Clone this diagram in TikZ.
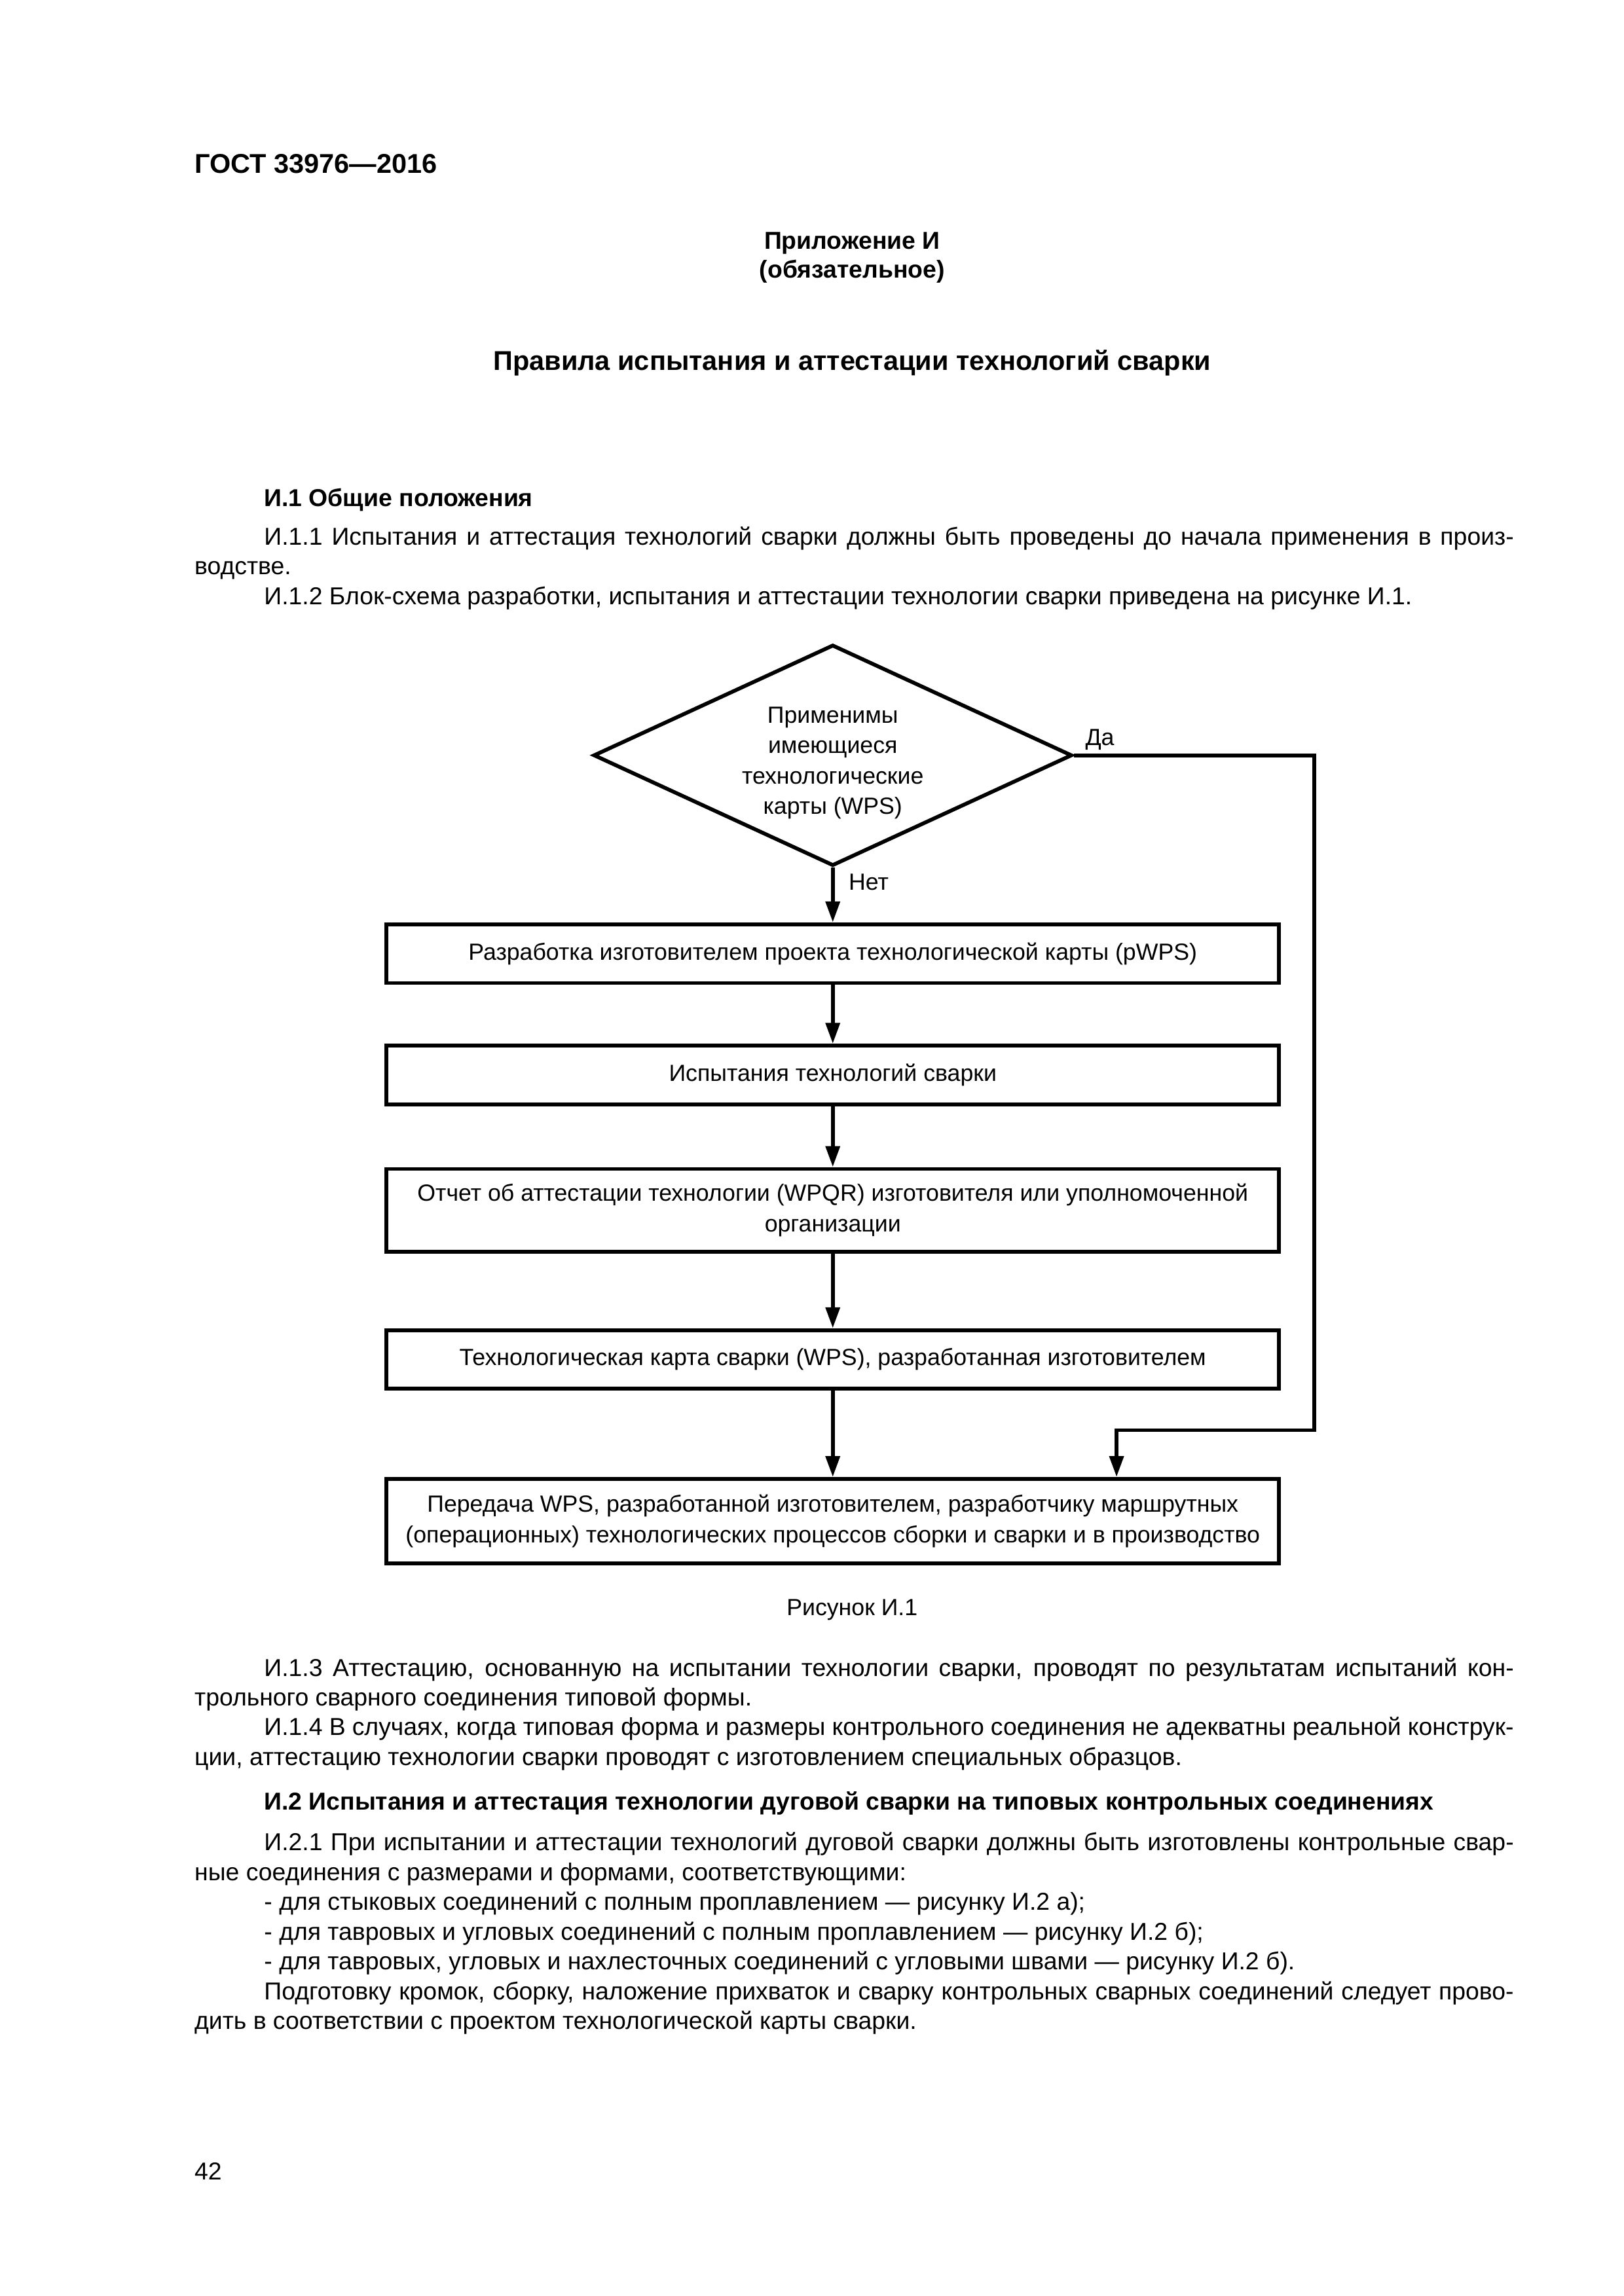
\documentclass[tikz,border=0pt]{standalone}
\usepackage{fontspec}
\setmainfont{Liberation Sans}
\usetikzlibrary{shapes.geometric,arrows.meta}
\newcommand{\body}{\fontsize{9}{10.95}\selectfont}
\newcommand{\chart}{\fontsize{8.6}{11.2}\selectfont}
\newcommand{\abz}{\hspace*{9mm}}
\tolerance=9999
\hyphenpenalty=10000

\begin{document}
\begin{tikzpicture}[x=1mm, y=-1mm,
  txt/.style={anchor=base west, inner sep=0pt, font=\body},
  para/.style={txt, text width=170.6mm, align=justify},
  head/.style={anchor=base, inner sep=0pt, font=\bfseries\body},
  blk/.style={draw, rectangle, line width=1.4pt, minimum width=115.4mm, minimum height=7.6mm, inner sep=0pt, align=center, font=\chart},
  dec/.style={draw, diamond, line width=1.4pt, aspect=2.16, minimum width=61.9mm, minimum height=28.6mm, inner sep=0pt, align=center, font=\chart},
  n/.style={-{Triangle[length=2.7mm, width=1.8mm]}, line width=1.4pt}]
            % page
            \fill[white] (0,0) rectangle (210,297);
            \useasboundingbox (0,0) rectangle (210,297);
            % heading
            \node[txt, font=\bfseries\fontsize{10}{12}\selectfont] (gost) at (25.1,22.4) {ГОСТ 33976—2016};
            \node[head] (app) at (110.2,32.2) {Приложение И};
            \node[head] (oblig) at (110.2,35.95) {(обязательное)};
            \node[head, font=\bfseries\fontsize{10}{12}\selectfont] (title) at (110.2,47.9) {Правила испытания и аттестации технологий сварки};
            \node[txt, font=\bfseries\body] (sec1) at (34.1,65.5) {И.1 Общие положения};
            \node[para] (p1) at (25.1,70.5) {\abz И.1.1 Испытания и аттестация технологий сварки должны быть проведены до начала применения в произ-\linebreak водстве.\par
              \abz И.1.2 Блок-схема разработки, испытания и аттестации технологии сварки приведена на рисунке И.1.};
            % nodes
            \node[dec] (q) at (107.7,97.7) {\raisebox{-1.8mm}[0pt][0pt]{\parbox{40mm}{\centering Применимы\\имеющиеся\\технологические\\карты (WPS)}}};
            \node[blk] (b1) at (107.7,123.35) {Разработка изготовителем проекта технологической карты (pWPS)};
            \node[blk] (b2) at (107.7,139.05) {Испытания технологий сварки};
            \node[blk, minimum height=10.7mm] (b3) at (107.7,156.55) {Отчет об аттестации технологии (WPQR) изготовителя или уполномоченной\\организации};
            \node[blk] (b4) at (107.7,175.85) {Технологическая карта сварки (WPS), разработанная изготовителем};
            \node[blk, minimum height=10.9mm] (b5) at (107.7,196.75) {Передача WPS, разработанной изготовителем, разработчику маршрутных\\(операционных) технологических процессов сборки и сварки и в производство};
            \node[txt, font=\chart] (yes) at (140.3,96.4) {Да};
            \node[txt, font=\chart] (no) at (109.7,115.1) {Нет};
            \coordinate (yesturn) at (170.0,185.0);
            \coordinate (yesdrop) at (144.4,0);
            % edges
            \draw[n] (q.south) -- (b1.north);
            \draw[n] (b1.south) -- (b2.north);
            \draw[n] (b2.south) -- (b3.north);
            \draw[n] (b3.south) -- (b4.north);
            \draw[n] (b4.south) -- (b5.north);
            \draw[n] (q.east) -| (yesturn) -| (b5.north -| yesdrop);
            % text below
            \node[anchor=base, inner sep=0pt, font=\chart] (cap) at (110.2,209.0) {Рисунок И.1};
            \node[para] (p2) at (25.1,216.8) {\abz И.1.3 Аттестацию, основанную на испытании технологии сварки, проводят по результатам испытаний кон-\linebreak трольного сварного соединения типовой формы.\par
              \abz И.1.4 В случаях, когда типовая форма и размеры контрольного соединения не адекватны реальной конструк-\linebreak ции, аттестацию технологии сварки проводят с изготовлением специальных образцов.};
            \node[txt, font=\bfseries\body] (sec2) at (34.1,234.1) {И.2 Испытания и аттестация технологии дуговой сварки на типовых контрольных соединениях};
            \node[para] (p3) at (25.1,239.4) {\abz И.2.1 При испытании и аттестации технологий дуговой сварки должны быть изготовлены контрольные свар-\linebreak ные соединения с размерами и формами, соответствующими:\par
              \abz - для стыковых соединений с полным проплавлением — рисунку И.2 а);\par
              \abz - для тавровых и угловых соединений с полным проплавлением — рисунку И.2 б);\par
              \abz - для тавровых, угловых и нахлесточных соединений с угловыми швами — рисунку И.2 б).\par
              \abz Подготовку кромок, сборку, наложение прихваток и сварку контрольных сварных соединений следует прово-\linebreak дить в соответствии с проектом технологической карты сварки.};
            \node[txt] (pageno) at (25.1,282.0) {42};
        \end{tikzpicture}
\end{document}
